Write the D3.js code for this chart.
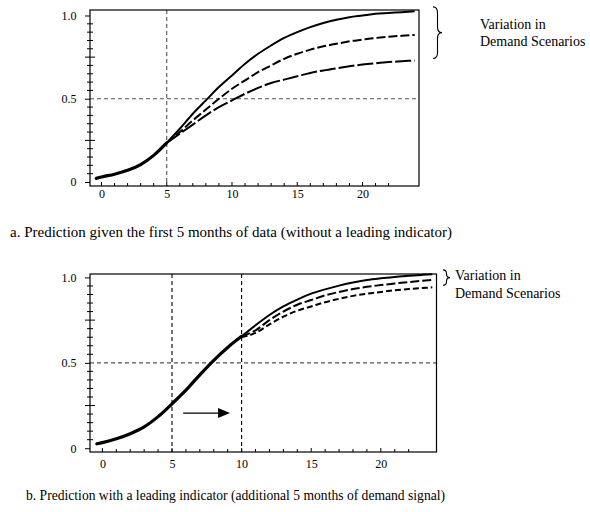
<!DOCTYPE html>
<html>
<head>
<meta charset="utf-8">
<script src="https://cdn.jsdelivr.net/npm/d3@7"></script>
<style>
  body { margin: 0; background: #fff; }
  svg { display: block; font-family: "Liberation Serif", "Times New Roman", serif; }
</style>
</head>
<body>
<script>
// ---- panel a: first 5 months known ----
const sharedMonthsA = [-0.4, 0, 1, 2, 3, 4, 5];
const sharedValuesA = [0.022, 0.03, 0.047, 0.07, 0.105, 0.16, 0.235];
const scenarioMonthsA = [5, 6, 7, 8, 9, 10, 11, 12, 13, 14, 15, 16, 17, 18, 19, 20, 21, 22, 23, 24];
const upperA  = [0.235, 0.32, 0.41, 0.49, 0.57, 0.64, 0.71, 0.77, 0.82, 0.865, 0.9, 0.93, 0.955, 0.975, 0.99, 1.0, 1.01, 1.015, 1.02, 1.025];
const middleA = [0.235, 0.30, 0.37, 0.435, 0.50, 0.56, 0.61, 0.66, 0.70, 0.74, 0.77, 0.795, 0.815, 0.83, 0.845, 0.855, 0.865, 0.872, 0.878, 0.883];
const lowerA  = [0.235, 0.29, 0.345, 0.40, 0.45, 0.49, 0.53, 0.565, 0.595, 0.615, 0.635, 0.655, 0.67, 0.683, 0.695, 0.705, 0.713, 0.72, 0.725, 0.73];

// ---- panel b: 5 more months from a leading indicator ----
const sharedMonthsB = [-0.4, 0, 1, 2, 3, 4, 5, 6, 7, 8, 9, 10];
const sharedValuesB = [0.026, 0.033, 0.055, 0.085, 0.125, 0.185, 0.26, 0.34, 0.43, 0.515, 0.59, 0.655];
const scenarioMonthsB = [10, 11, 12, 13, 14, 15, 16, 17, 18, 19, 20, 21, 22, 23, 23.7];
const upperB  = [0.655, 0.72, 0.78, 0.83, 0.87, 0.905, 0.93, 0.952, 0.97, 0.985, 0.995, 1.003, 1.01, 1.015, 1.018];
const middleB = [0.655, 0.69, 0.75, 0.80, 0.84, 0.868, 0.895, 0.915, 0.932, 0.945, 0.955, 0.965, 0.973, 0.98, 0.985];
const lowerB  = [0.65, 0.675, 0.725, 0.77, 0.805, 0.83, 0.855, 0.875, 0.892, 0.905, 0.915, 0.925, 0.932, 0.938, 0.942];

// ---- axes ----
const xTickValues = [0, 5, 10, 15, 20];
const xMinorTicks = [0, 1, 2, 3, 4, 5, 6, 7, 8, 9, 10, 11, 12, 13, 14, 15, 16, 17, 18, 19, 20, 21, 22];
const yTickValues = [0, 0.5, 1.0];
const yTickLabels = ["0", "0.5", "1.0"];
const yMidTicks = [0.25, 0.75];
const yMinorTicks = [0.05, 0.1, 0.15, 0.2, 0.3, 0.35, 0.4, 0.45, 0.55, 0.6, 0.65, 0.7, 0.8, 0.85, 0.9, 0.95];

const legendLines = ["Variation in", "Demand Scenarios"];
const captionA = "a. Prediction given the first 5 months of data (without a leading indicator)";
const captionB = "b. Prediction with a leading indicator (additional 5 months of demand signal)";

const svg = d3.select("body").append("svg")
  .attr("width", 590)
  .attr("height", 512);

function toPoints(months, values) {
  return months.map(function (m, i) { return {m: m, v: values[i]}; });
}

function drawPanel(p) {
  let x = d3.scaleLinear().domain(p.xDomain).range([p.left, p.right]);
  let y = d3.scaleLinear().domain(p.yDomain).range([p.bottom, p.top]);
  let g = svg.append("g");

  // dashed guide lines
  g.append("line")
    .attr("x1", p.left).attr("x2", p.right)
    .attr("y1", y(0.5)).attr("y2", y(0.5))
    .attr("stroke", "#555").attr("stroke-width", 1.1)
    .attr("stroke-dasharray", "4,3");
  p.vLines.forEach(function (v) {
    g.append("line")
      .attr("x1", x(v)).attr("x2", x(v))
      .attr("y1", p.top).attr("y2", p.bottom)
      .attr("stroke", p.vColor).attr("stroke-width", 1.1)
      .attr("stroke-dasharray", "4,3");
  });

  // frame
  g.append("rect")
    .attr("x", p.left).attr("y", p.top)
    .attr("width", p.right - p.left).attr("height", p.bottom - p.top)
    .attr("fill", "none").attr("stroke", "#000").attr("stroke-width", 1.2);

  // x ticks
  g.selectAll(".xminor").data(xMinorTicks).enter().append("line")
    .attr("x1", function (d) { return x(d); }).attr("x2", function (d) { return x(d); })
    .attr("y1", p.bottom).attr("y2", function (d) { return p.bottom - (d % 5 === 0 ? 4 : 3); })
    .attr("stroke", "#000").attr("stroke-width", 1);

  let xAxis = g.append("g")
    .attr("transform", "translate(0," + p.bottom + ")")
    .call(d3.axisBottom(x).tickValues(xTickValues).tickSize(0).tickPadding(p.xPad));
  xAxis.select(".domain").remove();
  xAxis.selectAll("text").attr("font-size", 12).attr("font-family", "Liberation Serif").attr("fill", "#000");

  // y ticks
  g.selectAll(".yminor").data(yMinorTicks).enter().append("line")
    .attr("x1", p.left - 3).attr("x2", p.left + 3)
    .attr("y1", function (d) { return y(d); }).attr("y2", function (d) { return y(d); })
    .attr("stroke", "#000").attr("stroke-width", 1);
  g.selectAll(".ymid").data(yMidTicks).enter().append("line")
    .attr("x1", p.left - 5).attr("x2", p.left + 5)
    .attr("y1", function (d) { return y(d); }).attr("y2", function (d) { return y(d); })
    .attr("stroke", "#000").attr("stroke-width", 1);

  let yAxis = g.append("g")
    .attr("transform", "translate(" + p.left + ",0)")
    .call(d3.axisLeft(y).tickValues(yTickValues)
      .tickFormat(function (d, i) { return yTickLabels[i]; })
      .tickSize(5).tickPadding(8.5));
  yAxis.select(".domain").remove();
  yAxis.selectAll("line").attr("stroke", "#000");
  yAxis.selectAll("text").attr("font-size", 12).attr("font-family", "Liberation Serif").attr("fill", "#000");

  // curves
  let line = d3.line()
    .x(function (d) { return x(d.m); })
    .y(function (d) { return y(d.v); })
    .curve(d3.curveMonotoneX);

  let styles = [
    {vals: p.lower, dash: p.lowerDash},
    {vals: p.middle, dash: p.middleDash},
    {vals: p.upper, dash: null}
  ];
  styles.forEach(function (s) {
    g.append("path")
      .datum(toPoints(p.scenarioMonths, s.vals))
      .attr("d", line)
      .attr("fill", "none").attr("stroke", "#000").attr("stroke-width", 2)
      .attr("stroke-dasharray", s.dash);
  });
  g.append("path")
    .datum(toPoints(p.sharedMonths, p.shared))
    .attr("d", line)
    .attr("fill", "none").attr("stroke", "#000").attr("stroke-width", 3.2)
    .attr("stroke-linecap", "round");

  // brace around the scenario ends
  let endHi = y(d3.max([p.upper[p.upper.length - 1], p.middle[p.middle.length - 1], p.lower[p.lower.length - 1]])) - 4.5;
  let endLo = y(d3.min([p.upper[p.upper.length - 1], p.middle[p.middle.length - 1], p.lower[p.lower.length - 1]])) - 2;
  let bx = p.right + p.braceGap, bw = p.braceW, mid = (endHi + endLo) / 2, r = Math.min(6, (endLo - endHi) / 4);
  let bp = d3.path();
  bp.moveTo(bx, endHi);
  bp.quadraticCurveTo(bx + bw / 2, endHi, bx + bw / 2, endHi + r);
  bp.lineTo(bx + bw / 2, mid - r);
  bp.quadraticCurveTo(bx + bw / 2, mid, bx + bw, mid);
  bp.quadraticCurveTo(bx + bw / 2, mid, bx + bw / 2, mid + r);
  bp.lineTo(bx + bw / 2, endLo - r);
  bp.quadraticCurveTo(bx + bw / 2, endLo, bx, endLo);
  g.append("path").attr("d", bp.toString())
    .attr("fill", "none").attr("stroke", "#000").attr("stroke-width", 1.1);

  g.selectAll(".legend").data(legendLines).enter().append("text")
    .attr("x", p.legendX)
    .attr("y", function (d, i) { return p.legendY + i * p.legendStep; })
    .attr("font-size", 14).attr("fill", "#000")
    .text(function (d) { return d; });

  // arrow (panel b only)
  if (p.arrow) {
    let a = p.arrow;
    let x0 = x(a.from), x1 = x(a.to), ay = y(a.level);
    g.append("line")
      .attr("x1", x0).attr("x2", x1 - 10)
      .attr("y1", ay).attr("y2", ay)
      .attr("stroke", "#000").attr("stroke-width", 1.3);
    g.append("path")
      .attr("d", "M" + x1 + "," + ay + "L" + (x1 - 12) + "," + (ay - 5) + "L" + (x1 - 12) + "," + (ay + 5) + "Z")
      .attr("fill", "#000");
  }

  svg.append("text")
    .attr("x", p.captionX).attr("y", p.captionY)
    .attr("font-size", p.captionSize).attr("fill", "#000")
    .text(p.caption);
}

drawPanel({
  left: 90, right: 419, top: 10, bottom: 186,
  xDomain: [-0.88, 24.33], yDomain: [-0.024, 1.033],
  xPad: 3.5, vLines: [5], vColor: "#555",
  sharedMonths: sharedMonthsA, shared: sharedValuesA,
  scenarioMonths: scenarioMonthsA, upper: upperA, middle: middleA, lower: lowerA,
  middleDash: "9,3", lowerDash: "16,3",
  braceGap: 14, braceW: 9,
  legendX: 480, legendY: 29, legendStep: 17,
  caption: captionA, captionX: 10, captionY: 236.5, captionSize: 15
});

drawPanel({
  left: 90, right: 436.5, top: 274, bottom: 452,
  xDomain: [-0.89, 24.0], yDomain: [-0.022, 1.020],
  xPad: 7.5, vLines: [5, 10], vColor: "#000",
  sharedMonths: sharedMonthsB, shared: sharedValuesB,
  scenarioMonths: scenarioMonthsB, upper: upperB, middle: middleB, lower: lowerB,
  middleDash: "9,3", lowerDash: "6,3",
  braceGap: 6.5, braceW: 7,
  legendX: 455, legendY: 280, legendStep: 18,
  arrow: {from: 5.8, to: 9.17, level: 0.206},
  caption: captionB, captionX: 26, captionY: 500, captionSize: 13.6
});
</script>
</body>
</html>
